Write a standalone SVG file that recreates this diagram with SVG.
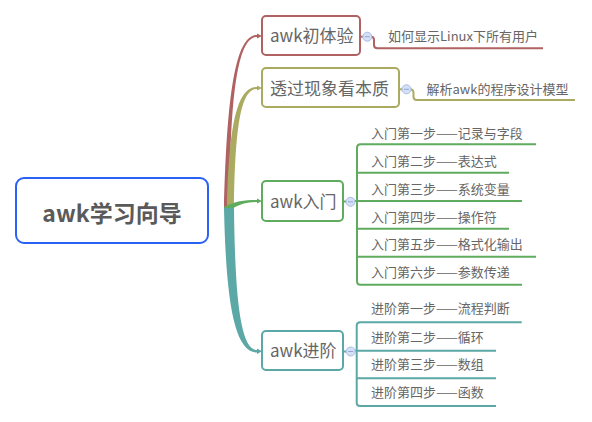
<svg xmlns="http://www.w3.org/2000/svg" width="592" height="422" viewBox="0 0 592 422">
<style>
text{font-family:"Noto Sans CJK SC","Noto Sans",sans-serif;fill:#666}
.root{font-size:23px;font-weight:bold;fill:#5a5a5a}
.main{font-size:17px}
.sub{font-size:13px}
.box{fill:#fff;stroke-width:2}
.ln{fill:none;stroke-width:2}
.tg{fill:#d6e0f5;stroke:#a9bde6;stroke-width:1}
.tm{stroke:#8ea6d8;stroke-width:1}
.r{stroke:#b06262}.o{stroke:#aaaa60}.g{stroke:#5fac5f}.t{stroke:#5ba8a6}
</style>
<defs>
<g id="tog"><circle class="tg" r="4.5"/><line class="tm" x1="-2.5" y1="0" x2="2.5" y2="0"/></g>
</defs>
<g id="connectors">
<path fill="#b06262" d="M224 210 C227 90 236 35 257 35 L257 33.5 L262 36 L257 38.5 L257 37 C238 37 230 92 229.5 210 Z"/>
<path fill="#aaaa60" d="M227 210 C229 120 238 87 257 87 L257 85.5 L262 88 L257 90.5 L257 89 C242 89 235 120 234 210 Z"/>
<path fill="#5fac5f" d="M224 207 C235 201 245 200 257 200 L257 198.5 L262 201 L257 203.5 L257 202 C245 202 236 205 226 213 Z"/>
<path fill="#5ba8a6" d="M224 208 C226 300 234 352.5 257 352.5 L257 354 L262 351.2 L257 348.5 L257 350 C240 350 235 295 234 208 Z"/>
<line class="ln r" x1="360" y1="36.7" x2="364" y2="36.7"/>
<path class="ln r" d="M371 36.7 Q374 36.7 374 40 L374 45 Q374 48.3 377.5 48.3 L543 48.3"/>
<line class="ln o" x1="399" y1="89.3" x2="403" y2="89.3"/>
<path class="ln o" d="M410 89.3 Q413.5 89.3 413.5 93 L413.5 96.5 Q413.5 100 417 100 L575 100"/>
<line class="ln g" x1="343" y1="201.5" x2="347" y2="201.5"/>
<path class="ln g" d="M354 201 L357 201 M536 144.3 L360.5 144.3 Q357 144.3 357 147.8 L357 281.2 Q357 284.7 360.5 284.7 L522 284.7 M357 172.7 L509 172.7 M357 201 L522 201 M357 228.7 L509 228.7 M357 256.7 L536 256.7"/>
<line class="ln t" x1="343" y1="351.5" x2="347" y2="351.5"/>
<path class="ln t" d="M354 350.7 L356.7 350.7 M521.7 322.3 L360.2 322.3 Q356.7 322.3 356.7 325.8 L356.7 402.5 Q356.7 406 360.2 406 L496 406 M356.7 350.7 L496 350.7 M356.7 378.3 L496 378.3"/>
</g>
<g id="root"><rect class="box" x="16" y="178" width="192" height="65" rx="8" stroke="#2a62f5"/><text class="root" x="112" y="222" text-anchor="middle">awk学习向导</text></g>
<g id="n1"><rect class="box r" x="262" y="16" width="98" height="39" rx="4"/><text class="main" x="270" y="42">awk初体验</text><use href="#tog" x="367.3" y="36.7"/></g>
<g id="n2"><rect class="box o" x="262" y="68" width="137" height="39" rx="4"/><text class="main" x="270" y="94.5">透过现象看本质</text><use href="#tog" x="406.5" y="89.3"/></g>
<g id="n3"><rect class="box g" x="262" y="181" width="81" height="40" rx="4"/><text class="main" x="270" y="207.5">awk入门</text><use href="#tog" x="350.5" y="201.8"/></g>
<g id="n4"><rect class="box t" x="262" y="331" width="81" height="39" rx="4"/><text class="main" x="270" y="357">awk进阶</text><use href="#tog" x="350.7" y="351.5"/></g>
<g id="s1"><text class="sub" x="388" y="41">如何显示Linux下所有用户</text></g>
<g id="s2"><text class="sub" x="426.5" y="94">解析awk的程序设计模型</text></g>
<g id="s3a"><text class="sub" x="371" y="137.6">入门第一步——记录与字段</text></g>
<g id="s3b"><text class="sub" x="371" y="165.6">入门第二步——表达式</text></g>
<g id="s3c"><text class="sub" x="371" y="193.9">入门第三步——系统变量</text></g>
<g id="s3d"><text class="sub" x="371" y="221.6">入门第四步——操作符</text></g>
<g id="s3e"><text class="sub" x="371" y="249.2">入门第五步——格式化输出</text></g>
<g id="s3f"><text class="sub" x="371" y="277.2">入门第六步——参数传递</text></g>
<g id="s4a"><text class="sub" x="371" y="313">进阶第一步——流程判断</text></g>
<g id="s4b"><text class="sub" x="371" y="341.5">进阶第二步——循环</text></g>
<g id="s4c"><text class="sub" x="371" y="369">进阶第三步——数组</text></g>
<g id="s4d"><text class="sub" x="371" y="396.5">进阶第四步——函数</text></g>
</svg>
